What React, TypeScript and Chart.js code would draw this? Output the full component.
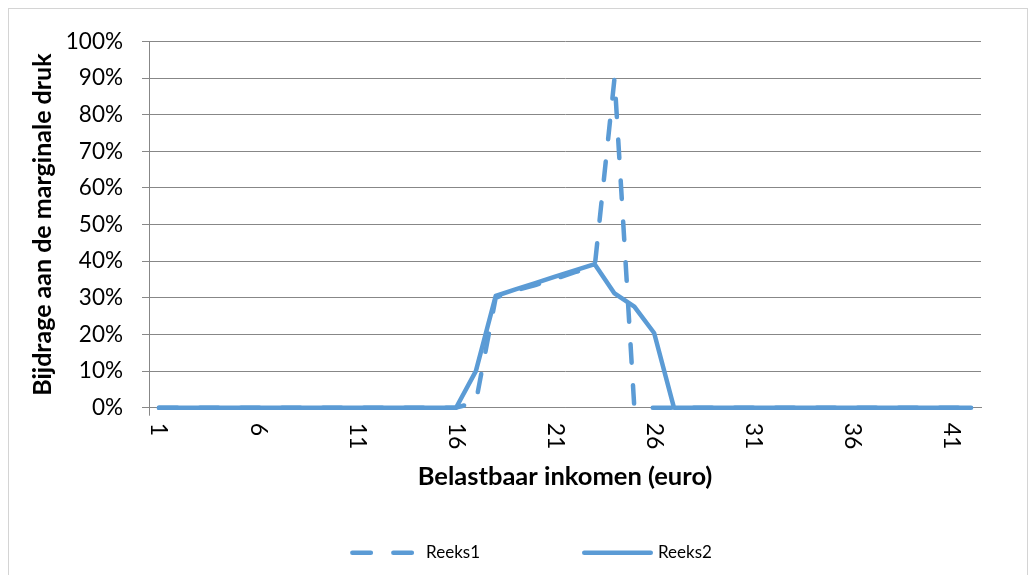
import React, { useEffect, useRef } from "react";
import { Chart, registerables } from "chart.js";

Chart.register(...registerables);

// ---- Data ----
const categories = [
  "1", "2", "3", "4", "5", "6", "7", "8", "9", "10",
  "11", "12", "13", "14", "15", "16", "17", "18", "19", "20",
  "21", "22", "23", "24", "25", "26", "27", "28", "29", "30",
  "31", "32", "33", "34", "35", "36", "37", "38", "39", "40",
  "41", "42",
];

// Reeks1 (dashed), percent
const reeks1 = [
  0, 0, 0, 0, 0, 0, 0, 0, 0, 0,
  0, 0, 0, 0, 0, 0, 1.5, 30, 32, 33.5,
  35.2, 37, 38.5, 90, 0, 0, 0, 0, 0, 0,
  0, 0, 0, 0, 0, 0, 0, 0, 0, 0,
  0, 0,
];

// Reeks2 (solid), percent
const reeks2 = [
  0, 0, 0, 0, 0, 0, 0, 0, 0, 0,
  0, 0, 0, 0, 0, 0, 10, 30.5, 32.3, 34,
  35.8, 37.5, 39.2, 31.2, 27.6, 20.4, 0, 0, 0, 0,
  0, 0, 0, 0, 0, 0, 0, 0, 0, 0,
  0, 0,
];

const seriesNames = ["Reeks1", "Reeks2"];
const xTickLabels = ["1", "6", "11", "16", "21", "26", "31", "36", "41"];
const yAxisTitle = "Bijdrage aan de marginale druk";
const xAxisTitle = "Belastbaar inkomen (euro)";

// ---- Styles ----
const FONT = "Lato, 'Open Sans', sans-serif";
const BLUE = "#5B9BD5";
const GRID = "#878787";
const TEXT = "#000000";

const rotatedXLabels = {
  id: "rotatedXLabels",
  afterDraw(chart: any) {
    const ctx = chart.ctx as CanvasRenderingContext2D;
    const xs = chart.scales.x;
    ctx.save();
    // small tick mark below the axis at the left edge
    ctx.strokeStyle = GRID;
    ctx.lineWidth = 1;
    ctx.beginPath();
    ctx.moveTo(Math.round(xs.left) + 0.5, xs.top);
    ctx.lineTo(Math.round(xs.left) + 0.5, xs.top + 8);
    ctx.stroke();

    ctx.font = `23px ${FONT}`;
    ctx.fillStyle = TEXT;
    ctx.textAlign = "left";
    ctx.textBaseline = "middle";
    categories.forEach((c, i) => {
      if (!xTickLabels.includes(c)) return;
      const x = xs.getPixelForValue(i);
      ctx.save();
      ctx.translate(x, xs.top + 15);
      ctx.rotate(Math.PI / 2);
      ctx.fillText(c, 0, 0);
      ctx.restore();
    });
    ctx.restore();
  },
};

const bottomLegend = {
  id: "bottomLegend",
  afterDraw(chart: any) {
    const ctx = chart.ctx as CanvasRenderingContext2D;
    const sample = 71;
    const gap = 5;
    const spacing = 102;
    const centerX = 522;
    const y = 543.7;
    ctx.save();
    ctx.font = `17px ${FONT}`;
    const items = chart.data.datasets.map((ds: any) => ({
      ds,
      w: sample + gap + ctx.measureText(ds.label).width,
    }));
    const total =
      items.reduce((a: number, it: any) => a + it.w, 0) + spacing * (items.length - 1);
    let x = centerX - total / 2;
    items.forEach((it: any) => {
      const ds = it.ds;
      const lw = ds.borderWidth;
      ctx.strokeStyle = ds.borderColor;
      ctx.lineWidth = lw;
      ctx.lineCap = "round";
      ctx.setLineDash(ds.borderDash || []);
      ctx.beginPath();
      ctx.moveTo(x + lw / 2, y);
      ctx.lineTo(x + sample - lw / 2, y);
      ctx.stroke();
      ctx.setLineDash([]);
      ctx.fillStyle = TEXT;
      ctx.textAlign = "left";
      ctx.textBaseline = "middle";
      ctx.fillText(ds.label, x + sample + gap, y);
      x += it.w + spacing;
    });
    ctx.restore();
  },
};

export default function App() {
  const ref = useRef<HTMLCanvasElement>(null);

  useEffect(() => {
    document.documentElement.style.overflow = "hidden";
    Chart.defaults.font.family = FONT;
    const chart = new Chart(ref.current as HTMLCanvasElement, {
      type: "line",
      data: {
        labels: categories,
        datasets: [
          {
            label: seriesNames[0],
            data: reeks1,
            borderColor: BLUE,
            backgroundColor: BLUE,
            borderWidth: 4.5,
            borderDash: [18.5, 22.5],
            borderCapStyle: "round",
            borderJoinStyle: "round",
            pointRadius: 0,
            fill: false,
            tension: 0,
            clip: false,
            order: 1,
          },
          {
            label: seriesNames[1],
            data: reeks2,
            borderColor: BLUE,
            backgroundColor: BLUE,
            borderWidth: 4.5,
            borderCapStyle: "round",
            borderJoinStyle: "round",
            pointRadius: 0,
            fill: false,
            tension: 0,
            clip: false,
            order: 0,
          },
        ],
      },
      options: {
        animation: false,
        responsive: true,
        maintainAspectRatio: false,
        layout: { padding: { top: 26.7, left: 0, right: 46, bottom: 91.3 } },
        plugins: {
          legend: { display: false },
          tooltip: { enabled: false },
        },
        scales: {
          x: {
            type: "category",
            offset: true,
            grid: { display: false },
            border: { display: true, color: GRID, width: 1 },
            ticks: { display: false },
            title: {
              display: true,
              text: xAxisTitle,
              color: TEXT,
              font: { size: 25.5, weight: "bold", family: FONT },
              padding: { top: 0, bottom: 15.3 },
            },
            afterFit: (s: any) => {
              s.height = 100;
            },
          },
          y: {
            min: 0,
            max: 100,
            ticks: {
              stepSize: 10,
              callback: (v: any) => `${v}%`,
              color: TEXT,
              font: { size: 22.5, family: FONT },
              padding: 19,
            },
            grid: { color: GRID, lineWidth: 1, tickLength: 7, drawTicks: true },
            border: { display: true, color: GRID, width: 1 },
            title: {
              display: true,
              text: yAxisTitle,
              color: TEXT,
              font: { size: 25, weight: "bold", family: FONT },
              padding: { top: 19, bottom: 0 },
            },
            afterFit: (s: any) => {
              s.width = 140;
            },
          },
        },
      },
      plugins: [rotatedXLabels, bottomLegend],
    } as any);
    return () => chart.destroy();
  }, []);

  return (
    <div
      style={{
        width: 1018,
        height: 590,
        border: "1px solid #d4d4d4",
        position: "relative",
      }}
    >
      <canvas ref={ref} />
    </div>
  );
}
